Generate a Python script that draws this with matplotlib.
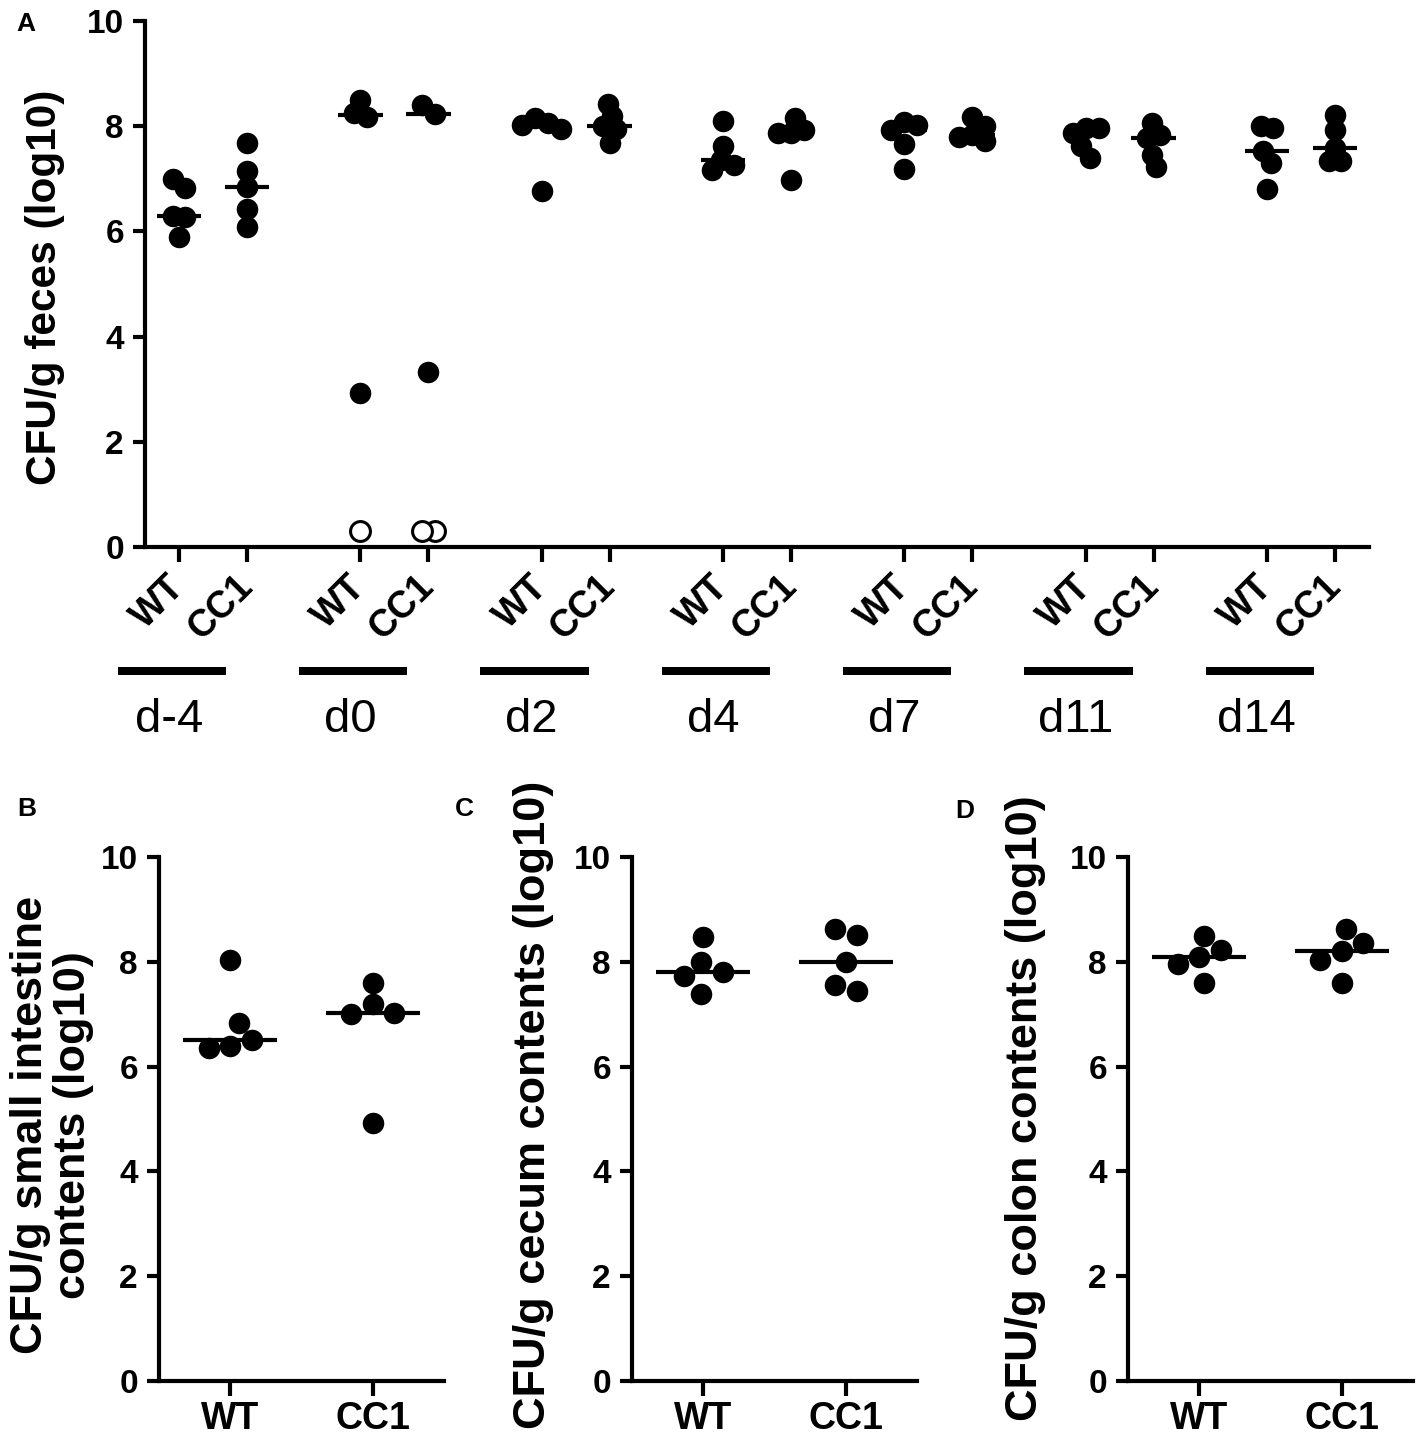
import numpy as np
import matplotlib
matplotlib.use('Agg')
import matplotlib.pyplot as plt
from matplotlib.transforms import blended_transform_factory

plt.rcParams['font.family'] = ['Liberation Sans', 'DejaVu Sans']

# ---------------- data ----------------
days = ['d-4', 'd0', 'd2', 'd4', 'd7', 'd11', 'd14']
groups = ['WT', 'CC1']

feces_wt = [[7.00, 6.83, 6.30, 6.28, 5.90],
            [8.50, 8.25, 8.18, 2.92],
            [8.16, 8.06, 8.03, 7.95, 6.77],
            [8.09, 7.62, 7.35, 7.27, 7.16],
            [8.08, 8.03, 7.93, 7.67, 7.18],
            [7.97, 7.97, 7.88, 7.62, 7.39],
            [8.00, 7.97, 7.52, 7.30, 6.80]]
feces_wt_below = [[], [0.3], [], [], [], [], []]
feces_cc1 = [[7.68, 7.15, 6.85, 6.42, 6.08],
             [8.41, 8.24, 3.33],
             [8.43, 8.19, 8.00, 7.95, 7.68],
             [8.16, 7.93, 7.87, 7.87, 6.98],
             [8.17, 8.00, 7.84, 7.80, 7.71],
             [8.06, 7.84, 7.78, 7.46, 7.22],
             [8.22, 7.93, 7.58, 7.33, 7.33]]
feces_cc1_below = [[], [0.3, 0.3], [], [], [], [], []]

si_wt = [8.04, 6.83, 6.50, 6.39, 6.36]
si_cc1 = [7.60, 7.19, 7.02, 7.00, 4.93]
cecum_wt = [8.47, 8.00, 7.80, 7.73, 7.38]
cecum_cc1 = [8.62, 8.52, 8.00, 7.56, 7.45]
colon_wt = [8.50, 8.22, 8.09, 7.96, 7.60]
colon_cc1 = [8.63, 8.36, 8.20, 8.04, 7.60]

ylabels = ['CFU/g feces (log10)',
           'CFU/g small intestine\ncontents (log10)',
           'CFU/g cecum contents (log10)',
           'CFU/g colon contents (log10)']
panel_letters = ['A', 'B', 'C', 'D']

# ---------------- style ----------------
W, H = 1419, 1442
DPI = 100
PX = 72.0 / DPI          # points per pixel
MS = 15.5                # marker diameter (pt)
LW = 3.0
YTICK_FS = 24
XTICK_FS = 27

fig = plt.figure(figsize=(W / DPI, H / DPI), dpi=DPI)


def swarm(vals, sx, sy, diam, mind_frac=0.8):
    """Greedy beeswarm offsets (data x units); each vertical cluster centred."""
    order = np.argsort(vals)[::-1]
    placed = []
    offs = np.zeros(len(vals))
    step = diam * 0.2
    mind = diam * mind_frac
    for i in order:
        ypx = vals[i] * sy
        k = 0
        while True:
            cands = [0.0] if k == 0 else [k * step, -k * step]
            ok = None
            for c in cands:
                if all((c - px) ** 2 + (ypx - py) ** 2 >= mind ** 2 for px, py in placed):
                    ok = c
                    break
            if ok is not None:
                placed.append((ok, ypx))
                offs[i] = ok
                break
            k += 1
    # centre each cluster of vertically-overlapping points
    ys = np.asarray(vals) * sy
    srt = np.argsort(ys)
    clusters = [[srt[0]]]
    for a, b in zip(srt[:-1], srt[1:]):
        if ys[b] - ys[a] < mind:
            clusters[-1].append(b)
        else:
            clusters.append([b])
    for cl in clusters:
        o = offs[cl]
        offs[cl] = o - (o.max() + o.min()) / 2.0
    return offs / sx


def style_axes(ax):
    for s in ['top', 'right']:
        ax.spines[s].set_visible(False)
    for s in ['left', 'bottom']:
        ax.spines[s].set_linewidth(LW)
    ax.set_ylim(0, 10)
    ax.set_yticks([0, 2, 4, 6, 8, 10])
    ax.tick_params(axis='both', direction='out', length=12 * PX, width=LW,
                   labelsize=YTICK_FS, pad=6.5)
    for lab in ax.get_yticklabels():
        lab.set_fontweight('bold')


def draw_group(ax, x, detected, below, sx, sy, mind_frac):
    vals = np.array(list(detected) + list(below), dtype=float)
    diam = MS / PX
    offs = swarm(vals, sx, sy, diam, mind_frac)
    nd = len(detected)
    ax.plot(x + offs[:nd], vals[:nd], 'o', ms=MS, mfc='black', mec='black',
            mew=0, clip_on=False, zorder=3)
    if len(below):
        ax.plot(x + offs[nd:], vals[nd:], 'o', ms=MS - 1.2, mfc='white', mec='black',
                mew=2.2, clip_on=False, zorder=3)
    med = np.median(detected)
    ax.plot([x - 0.33, x + 0.33], [med, med], color='black', lw=LW,
            solid_capstyle='butt', zorder=4)


# ---------------- Panel A ----------------
axA = fig.add_axes([145 / W, 1 - 547 / H, 1224 / W, 526 / H])
style_axes(axA)
gap = 181.3 / 68.0
wt_x = np.arange(len(days)) * gap
cc_x = wt_x + 1
axA.set_xlim(-0.5, wt_x[-1] + 1.5)
sxA = 1224 / (wt_x[-1] + 2.0)
syA = 526 / 10.0
for i in range(len(days)):
    draw_group(axA, wt_x[i], feces_wt[i], feces_wt_below[i], sxA, syA, 0.6)
    draw_group(axA, cc_x[i], feces_cc1[i], feces_cc1_below[i], sxA, syA, 0.6)

ticks = np.ravel(np.column_stack([wt_x, cc_x]))
axA.set_xticks(ticks)
axA.set_xticklabels(groups * len(days), rotation=45, ha='right', va='center',
                    rotation_mode='anchor', fontweight='bold', fontsize=XTICK_FS)
axA.tick_params(axis='x', length=15 * PX, pad=14)

trA = blended_transform_factory(axA.transData, axA.transAxes)
bar_y = (547 - 671) / 526
day_y = (547 - 732) / 526
for i, d in enumerate(days):
    axA.plot([wt_x[i] - 0.9, wt_x[i] + 0.69], [bar_y, bar_y], transform=trA,
             color='black', lw=8 * PX, solid_capstyle='butt', clip_on=False)
    axA.text(wt_x[i] - 0.15, day_y, d, transform=trA, ha='center', va='baseline',
             fontsize=34, fontweight='normal')

axA.set_ylabel(ylabels[0], fontsize=30.5, fontweight='bold')
axA.yaxis.set_label_coords(45 / W, 1 - 287 / H, transform=fig.transFigure)
axA.yaxis.label.set_va('center')

# ---------------- Panels B, C, D ----------------
small_data = [(si_wt, si_cc1), (cecum_wt, cecum_cc1), (colon_wt, colon_cc1)]
lefts = [159, 632, 1128]
label_x = [52, 533, 1026]
label_y = [1125, 1105, 1108]
for k, (wt, cc) in enumerate(small_data):
    ax = fig.add_axes([lefts[k] / W, 1 - 1381 / H, 285 / W, 524 / H])
    style_axes(ax)
    ax.set_xlim(-0.5, 1.5)
    sx = 285 / 2.0
    sy = 524 / 10.0
    draw_group(ax, 0, wt, [], sx, sy, 0.95)
    draw_group(ax, 1, cc, [], sx, sy, 0.95)
    ax.set_xticks([0, 1])
    ax.set_xticklabels(groups, fontweight='bold', fontsize=XTICK_FS)
    ax.tick_params(axis='x', length=15 * PX, pad=3.5)
    ax.set_ylabel(ylabels[k + 1], fontsize=32.5, fontweight='bold',
                  linespacing=1.05)
    ax.yaxis.set_label_coords(label_x[k] / W, 1 - label_y[k] / H, transform=fig.transFigure)
    ax.yaxis.label.set_va('center')

# ---------------- panel letters ----------------
letter_pos = [(16, 12), (17, 797), (455, 797), (955, 799)]
for (lx, ly), t in zip(letter_pos, panel_letters):
    fig.text(lx / W, 1 - ly / H, t, ha='left', va='top', fontsize=19, fontweight='bold')

fig.savefig('out.png', dpi=DPI, facecolor='white')
